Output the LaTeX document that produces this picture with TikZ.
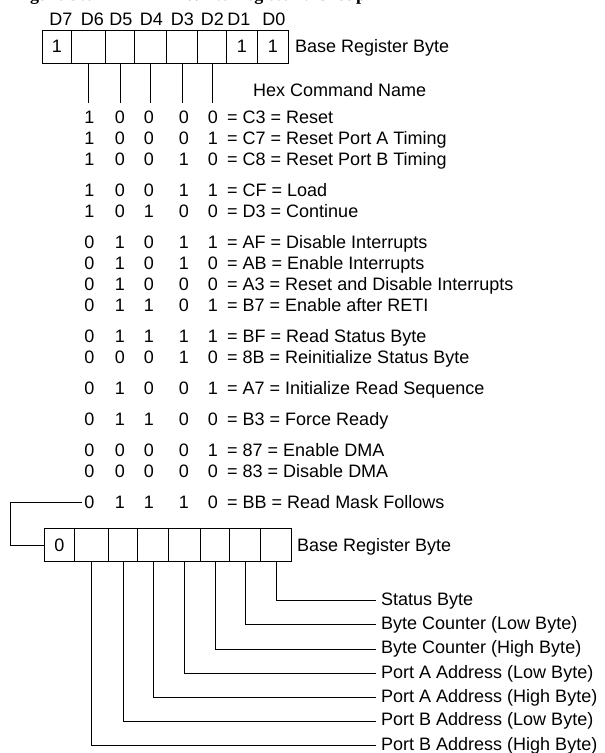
\documentclass[tikz,border=0pt]{standalone}
\usepackage{fontspec}
\setmainfont{Liberation Sans}
\newfontfamily\titlefont{Liberation Serif}
\begin{document}
\begin{tikzpicture}[x=1pt,y=-1pt,
  every node/.style={font=\fontsize{18}{21}\selectfont},
  line/.style={line width=0.8pt},
  cell/.style={draw, line width=0.8pt, minimum height=33pt, inner sep=0pt, anchor=north west},
  bit/.style={anchor=base, inner sep=2pt},
  cmd/.style={anchor=base west, inner sep=0pt},
  lbl/.style={anchor=west, inner xsep=5pt, inner ysep=0pt, text height=13pt, text depth=4pt},
  hdr/.style={anchor=base, inner sep=0pt},
  ttl/.style={anchor=base west, inner sep=0pt, font=\titlefont\bfseries\fontsize{18}{20}\selectfont}]
\useasboundingbox (0,0) rectangle (605,753);

% clipped title (only its lowest part lies on the page)
\node[ttl] (title1) at (14,0.8) {Figure 36.};
\node[ttl] (title2) at (184,0.8) {Write Register 6 Group};

% bit labels
\node[hdr] (d7) at (61,25) {D7};
\node[hdr] (d6) at (92.5,25) {D6};
\node[hdr] (d5) at (121,25) {D5};
\node[hdr] (d4) at (151.5,25) {D4};
\node[hdr] (d3) at (182.5,25) {D3};
\node[hdr] (d2) at (212.5,25) {D2};
\node[hdr] (d1) at (239,25) {D1};
\node[hdr] (d0) at (274,25) {D0};

% top register
\node[cell, minimum width=29pt] (t7) at (42,29.5) {1};
\node[cell, minimum width=34pt] (t6) at (71,29.5) {};
\node[cell, minimum width=29pt] (t5) at (105,29.5) {};
\node[cell, minimum width=32pt] (t4) at (134,29.5) {};
\node[cell, minimum width=31pt] (t3) at (166,29.5) {};
\node[cell, minimum width=29pt] (t2) at (197,29.5) {};
\node[cell, minimum width=31pt] (t1) at (226,29.5) {1};
\node[cell, minimum width=31pt] (t0) at (257,29.5) {1};
\node[cmd] (base1) at (295,52.5) {Base Register Byte};

\coordinate (hexlvl) at (0,103);
\foreach \c in {t6,t5,t4,t3,t2}{
  \draw[line] (\c.south) -- (\c.south |- hexlvl);
}

\node[cmd] (hex) at (253,96.5) {Hex Command Name};

% command rows
\foreach \y/\a/\b/\c/\d/\e/\t [count=\i] in {
  123.5/1/0/0/0/0/{= C3 = Reset},
  144.5/1/0/0/0/1/{= C7 = Reset Port A Timing},
  165.5/1/0/0/1/0/{= C8 = Reset Port B Timing},
  196.5/1/0/0/1/1/{= CF = Load},
  217.5/1/0/1/0/0/{= D3 = Continue},
  248.5/0/1/0/1/1/{= AF = Disable Interrupts},
  269.5/0/1/0/1/0/{= AB = Enable Interrupts},
  290.5/0/1/0/0/0/{= A3 = Reset and Disable Interrupts},
  311.5/0/1/1/0/1/{= B7 = Enable after RETI},
  342.5/0/1/1/1/1/{= BF = Read Status Byte},
  363.5/0/0/0/1/0/{= 8B = Reinitialize Status Byte},
  394.5/0/1/0/0/1/{= A7 = Initialize Read Sequence},
  425.5/0/1/1/0/0/{= B3 = Force Ready},
  456.5/0/0/0/0/1/{= 87 = Enable DMA},
  477.5/0/0/0/0/0/{= 83 = Disable DMA},
  508.5/0/1/1/1/0/{= BB = Read Mask Follows}}{
  \node[bit] (r\i-1) at (89.5,\y) {\a};
  \node[bit] (r\i-2) at (120,\y) {\b};
  \node[bit] (r\i-3) at (149,\y) {\c};
  \node[bit] (r\i-4) at (184,\y) {\d};
  \node[bit] (r\i-5) at (213,\y) {\e};
  \node[cmd] (r\i-t) at (227,\y) {\t};
}

% mask register
\node[cell, minimum width=30pt] (b7) at (44,528) {0};
\node[cell, minimum width=34pt] (b6) at (74,528) {};
\node[cell, minimum width=29pt] (b5) at (108,528) {};
\node[cell, minimum width=31pt] (b4) at (137,528) {};
\node[cell, minimum width=32pt] (b3) at (168,528) {};
\node[cell, minimum width=29pt] (b2) at (200,528) {};
\node[cell, minimum width=31pt] (b1) at (229,528) {};
\node[cell, minimum width=31pt] (b0) at (260,528) {};
\node[cmd] (base2) at (297,551) {Base Register Byte};

\draw[line] (r16-1.west) -- ++(-72,0) coordinate (loopc) |- (b7.west);

% field labels
\node[lbl] (s0) at (376,600.5) {Status Byte};
\node[lbl] (s1) at (376,624.5) {Byte Counter (Low Byte)};
\node[lbl] (s2) at (376,649) {Byte Counter (High Byte)};
\node[lbl] (s3) at (376,673.5) {Port A Address (Low Byte)};
\node[lbl] (s4) at (376,697.5) {Port A Address (High Byte)};
\node[lbl] (s5) at (376,721) {Port B Address (Low Byte)};
\node[lbl] (s6) at (376,745.5) {Port B Address (High Byte)};

\draw[line] (b0.south) |- (s0.west);
\draw[line] (b1.south) |- (s1.west);
\draw[line] (b2.south) |- (s2.west);
\draw[line] (b3.south) |- (s3.west);
\draw[line] (b4.south) |- (s4.west);
\draw[line] (b5.south) |- (s5.west);
\draw[line] (b6.south) |- (s6.west);
\end{tikzpicture}
\end{document}
